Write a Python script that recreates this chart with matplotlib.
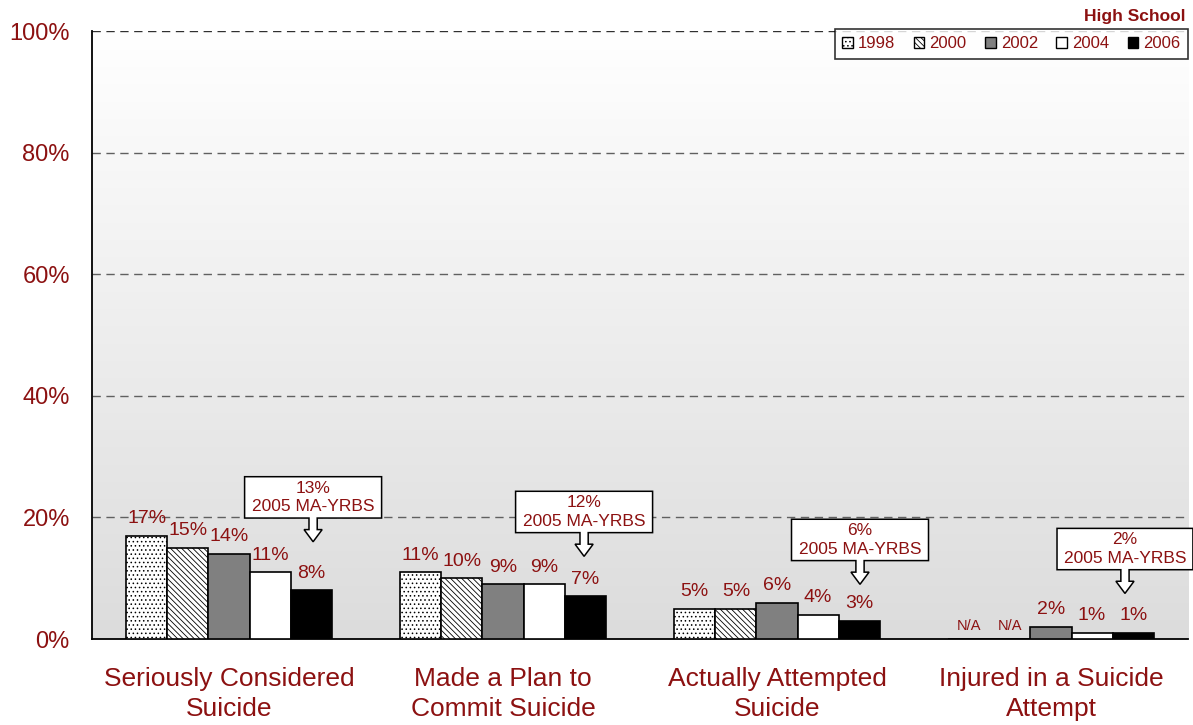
import matplotlib
matplotlib.use("Agg")
import matplotlib.pyplot as plt
import numpy as np
from matplotlib.colors import LinearSegmentedColormap
from matplotlib.patches import Polygon, Patch

plt.rcParams["font.family"] = ["Liberation Sans", "DejaVu Sans"]
plt.rcParams["hatch.linewidth"] = 0.6

RED = "#8c1111"

categories = ["Seriously Considered\nSuicide", "Made a Plan to\nCommit Suicide",
              "Actually Attempted\nSuicide", "Injured in a Suicide\nAttempt"]
years = ["1998", "2000", "2002", "2004", "2006"]
v1998 = [17, 11, 5, np.nan]
v2000 = [15, 10, 5, np.nan]
v2002 = [14, 9, 6, 2]
v2004 = [11, 9, 4, 1]
v2006 = [8, 7, 3, 1]
yrbs_2005 = [13, 12, 6, 2]

series = [v1998, v2000, v2002, v2004, v2006]
faces = ["white", "white", "#808080", "white", "black"]
hatches = ["....", "\\\\\\\\\\\\", None, None, None]

fig = plt.figure(figsize=(11.93, 7.25), dpi=100)
ax = fig.add_axes([0.0771, 0.1186, 0.9187, 0.8385])

# background gradient
cmap = LinearSegmentedColormap.from_list("bg", ["#dcdcdc", "#ffffff"])
ax.imshow(np.linspace(0, 1, 256)[:, None], extent=[-0.5, 3.5, 0, 100], aspect="auto",
          cmap=cmap, origin="lower", zorder=0)

x = np.arange(len(categories))
w = 0.15
for i, (vals, fc, h) in enumerate(zip(series, faces, hatches)):
    pos = x + (i - 2) * w
    ax.bar(pos, np.nan_to_num(vals), w, facecolor=fc, edgecolor="black", hatch=h,
           linewidth=1.2, zorder=3)
    for xp, v in zip(pos, vals):
        if np.isnan(v):
            ax.annotate("N/A", (xp, 0), xytext=(0, 6.5), textcoords="offset points",
                        ha="center", va="baseline", fontsize=10.5, color=RED, zorder=5)
        else:
            ax.annotate(f"{v:g}%", (xp, v), xytext=(0, 9), textcoords="offset points",
                        ha="center", va="baseline", fontsize=14, color=RED, zorder=5)

# gridlines
for g in [20, 40, 60, 80]:
    ax.axhline(g, color="#606060", lw=1, ls=(0, (6, 4)), zorder=1)
ax.axhline(100, color="#303030", lw=1, ls=(0, (6, 4)), zorder=1)

# 2005 MA-YRBS callouts (box + block arrow pointing at the 2006 bar)
arrow_x = [0.307, 0.296, 0.303, 0.27]
box_bot = [19.9, 17.5, 12.9, 11.4]
box_h = 6.8
for gi, (val, ax_off, bb) in enumerate(zip(yrbs_2005, arrow_x, box_bot)):
    xa = gi + ax_off
    if gi == 3:
        x0, x1 = 3.022, 3.518
    else:
        x0, x1 = xa - 0.25, xa + 0.25
    sw, hw = 0.015, 0.033
    ys, yt = bb - 1.9, bb - 3.9
    pts = [(x0, bb), (x0, bb + box_h), (x1, bb + box_h), (x1, bb), (xa + sw, bb),
           (xa + sw, ys), (xa + hw, ys), (xa, yt), (xa - hw, ys), (xa - sw, ys),
           (xa - sw, bb)]
    ax.add_patch(Polygon(pts, closed=True, facecolor="white", edgecolor="black",
                         lw=1.1, zorder=6, clip_on=False))
    ax.text((x0 + x1) / 2, bb + box_h / 2, f"{val}%\n2005 MA-YRBS", ha="center",
            va="center", fontsize=12.5, color=RED, zorder=7, linespacing=1.3)

ax.set_xlim(-0.5, 3.5)
ax.set_ylim(0, 100)
ax.set_yticks([0, 20, 40, 60, 80, 100])
ax.set_yticklabels([f"{t}%" for t in [0, 20, 40, 60, 80, 100]])
ax.set_xticks(x)
ax.set_xticklabels(categories, linespacing=1.35)
ax.tick_params(axis="y", length=0, pad=16, labelsize=17, labelcolor=RED)
ax.tick_params(axis="x", length=0, pad=20, labelsize=19, labelcolor=RED)
for s in ["top", "right"]:
    ax.spines[s].set_visible(False)
ax.spines["left"].set_linewidth(1.3)
ax.spines["bottom"].set_linewidth(1.3)

handles = [Patch(facecolor=fc, edgecolor="black", hatch=h, lw=1) for fc, h in zip(faces, hatches)]
leg = fig.legend(handles, years, loc="upper right", bbox_to_anchor=(1188 / 1193, 1 - 29 / 725),
                 ncol=5, fontsize=12, frameon=True, fancybox=False, handlelength=0.65,
                 handleheight=0.65, handletextpad=0.3, columnspacing=1.1, borderpad=0.45,
                 borderaxespad=0)
leg.get_frame().set_edgecolor("black")
leg.get_frame().set_linewidth(1.2)
for t in leg.get_texts():
    t.set_color(RED)

fig.text(1185 / 1193, 1 - 16 / 725, "High School", ha="right", va="center",
         fontsize=12.5, fontweight="bold", color=RED)

fig.savefig("out.png", dpi=100)
